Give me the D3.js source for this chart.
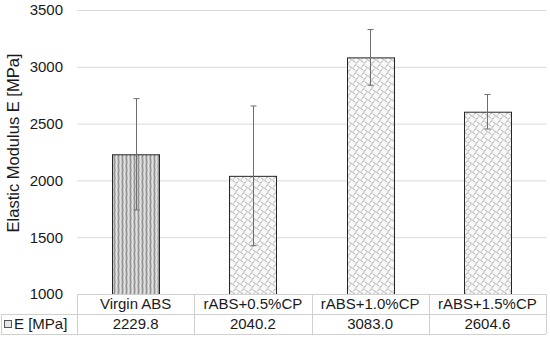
<!DOCTYPE html>
<html>
<head>
<meta charset="utf-8">
<script src="https://cdn.jsdelivr.net/npm/d3@7/dist/d3.min.js"></script>
<style>
  body { margin: 0; background: #fff; }
  text { font-family: "Liberation Sans", Arial, sans-serif; }
</style>
</head>
<body>
<div id="viz"></div>
<script>
const categories = ['Virgin ABS', 'rABS+0.5%CP', 'rABS+1.0%CP', 'rABS+1.5%CP'];
const modulus = [2229.8, 2040.2, 3083.0, 2604.6];
const modulusSd = [490, 615, 245, 152];
const yTicks = [1000, 1500, 2000, 2500, 3000, 3500];
const seriesName = 'E [MPa]';

const width = 550;
const height = 339;
const margin = { left: 77, right: 4, top: 10, bottom: 45 };

const svg = d3.select('#viz')
  .append('svg')
  .attr('width', width)
  .attr('height', height);

// fill patterns
const defs = svg.append('defs');
const wave = defs.append('pattern')
  .attr('id', 'wave')
  .attr('patternUnits', 'userSpaceOnUse')
  .attr('width', 4).attr('height', 8);
wave.append('rect').attr('width', 4).attr('height', 8).attr('fill', '#c8c8c8');
wave.append('rect').attr('x', 0).attr('width', 1).attr('height', 8).attr('fill', '#e2e2e2');
wave.append('path')
  .attr('d', 'M2.5,0 Q3.3,2 2.5,4 Q1.7,6 2.5,8')
  .attr('fill', 'none').attr('stroke', '#8a8a8a').attr('stroke-width', 1);

const lattice = defs.append('pattern')
  .attr('id', 'lattice')
  .attr('patternUnits', 'userSpaceOnUse')
  .attr('width', 8).attr('height', 8);
lattice.append('rect').attr('width', 8).attr('height', 8).attr('fill', '#f8f8f8');
lattice.append('path')
  .attr('d', 'M4,0.5 L7.5,4 L4,7.5 L0.5,4 Z')
  .attr('fill', 'none').attr('stroke', '#6a6a6a').attr('stroke-width', 1)
  .attr('stroke-dasharray', '1,1');

const x = d3.scaleBand()
  .domain(categories)
  .range([margin.left, width - margin.right])
  .paddingInner(0.6)
  .paddingOuter(0.3);

const y = d3.scaleLinear()
  .domain([1000, 3500])
  .range([height - margin.bottom, margin.top]);

// gridlines
svg.append('g')
  .selectAll('line')
  .data(yTicks.slice(1))
  .join('line')
  .attr('x1', margin.left).attr('x2', width - margin.right)
  .attr('y1', d => y(d) + 0.5).attr('y2', d => y(d) + 0.5)
  .attr('stroke', '#d9d9d9');

// y axis labels
const yAxis = d3.axisLeft(y)
  .tickValues(yTicks)
  .tickFormat(d3.format('d'))
  .tickSize(0)
  .tickPadding(14);
svg.append('g')
  .attr('transform', `translate(${margin.left},0)`)
  .call(yAxis)
  .call(g => g.select('.domain').remove())
  .call(g => g.selectAll('text')
    .attr('font-size', 15)
    .attr('fill', '#1a1a1a')
    .style('font-family', '"Liberation Sans", Arial, sans-serif'));

svg.append('text')
  .attr('transform', `translate(19,${(y(1000) + y(3500)) / 2 - 9}) rotate(-90)`)
  .attr('text-anchor', 'middle')
  .attr('font-size', 16.5)
  .attr('fill', '#1a1a1a')
  .text('Elastic Modulus  E [MPa]');

// bars
svg.append('g')
  .selectAll('rect')
  .data(categories)
  .join('rect')
  .attr('x', d => Math.round(x(d)) + 0.5)
  .attr('y', (d, i) => y(modulus[i]) + 0.5)
  .attr('width', Math.round(x.bandwidth()))
  .attr('height', (d, i) => y(1000) - y(modulus[i]))
  .attr('fill', (d, i) => i === 0 ? 'url(#wave)' : 'url(#lattice)')
  .attr('stroke', '#262626')
  .attr('stroke-width', 1);

// error bars
const err = svg.append('g').attr('stroke', '#6e6e6e').attr('stroke-width', 1);
categories.forEach((c, i) => {
  const cx = Math.round(x(c) + x.bandwidth() / 2) + 0.5;
  const top = y(modulus[i] + modulusSd[i]);
  const bot = y(modulus[i] - modulusSd[i]);
  err.append('line').attr('x1', cx).attr('x2', cx).attr('y1', top).attr('y2', bot);
  err.append('line').attr('x1', cx - 3).attr('x2', cx + 3).attr('y1', top).attr('y2', top);
  err.append('line').attr('x1', cx - 3).attr('x2', cx + 3).attr('y1', bot).attr('y2', bot);
});

// data table under the axis
const row1 = y(1000);
const row2 = row1 + 20;
const row3 = row2 + 20;
const table = svg.append('g');
const step = x.step();
const colEdges = categories.map(c => x(c) - step * x.paddingInner() / 2);
colEdges.push(width - margin.right);

const grid = table.append('g').attr('stroke', '#d0d0d0').attr('stroke-width', 1);
grid.append('line').attr('x1', margin.left).attr('x2', width - margin.right)
  .attr('y1', row1 + 0.5).attr('y2', row1 + 0.5);
grid.append('line').attr('x1', 1).attr('x2', width - margin.right)
  .attr('y1', row2 + 0.5).attr('y2', row2 + 0.5);
grid.append('line').attr('x1', 1).attr('x2', width - margin.right)
  .attr('y1', row3 + 0.5).attr('y2', row3 + 0.5);
grid.append('line').attr('x1', 1.5).attr('x2', 1.5)
  .attr('y1', row2).attr('y2', row3);
colEdges.forEach(e => {
  grid.append('line')
    .attr('x1', Math.round(e) + 0.5).attr('x2', Math.round(e) + 0.5)
    .attr('y1', row1).attr('y2', row3);
});

table.selectAll('text.cat')
  .data(categories)
  .join('text')
  .attr('class', 'cat')
  .attr('x', d => x(d) + x.bandwidth() / 2)
  .attr('y', row1 + 15)
  .attr('text-anchor', 'middle')
  .attr('font-size', 15)
  .attr('fill', '#1a1a1a')
  .text(d => d);

table.selectAll('text.val')
  .data(modulus)
  .join('text')
  .attr('class', 'val')
  .attr('x', (d, i) => x(categories[i]) + x.bandwidth() / 2)
  .attr('y', row2 + 15)
  .attr('text-anchor', 'middle')
  .attr('font-size', 15)
  .attr('fill', '#1a1a1a')
  .text(d => d.toFixed(1));

// legend key
table.append('rect')
  .attr('x', 4.5).attr('y', row2 + 6.5)
  .attr('width', 7).attr('height', 7)
  .attr('fill', '#e6e6e6')
  .attr('stroke', '#555');
table.append('text')
  .attr('x', 14).attr('y', row2 + 15)
  .attr('font-size', 15)
  .attr('fill', '#1a1a1a')
  .text(seriesName);
</script>
</body>
</html>
